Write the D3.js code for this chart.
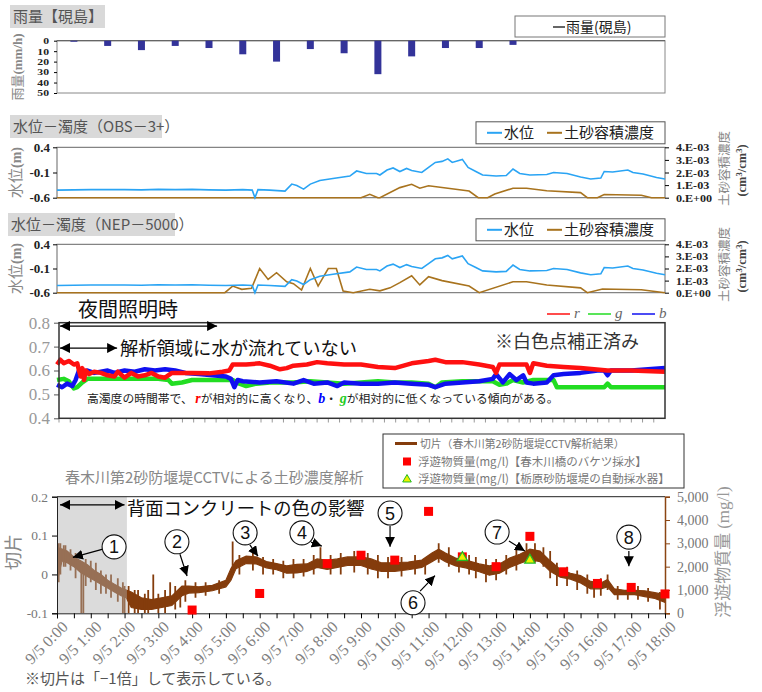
<!DOCTYPE html>
<html><head><meta charset="utf-8">
<script src="https://cdn.jsdelivr.net/npm/d3@7"></script>
<style>
body{margin:0;background:#fff}
</style></head><body>
<svg id="c" width="762" height="692" font-family='"Noto Sans CJK JP", sans-serif'></svg>
<script>
// ---------------- DATA ----------------
const hourTicks = d3.range(0, 19);
const rainHours = [0.5,1.5,2.5,3.5,4.5,5.5,6.5,7.5,8.5,9.5,10.5,11.5,12.5,13.5];
const rainValues = [1,5,9,5,7,13,20,8,12,32,15,7,7,4];
const rainTicks = [0,10,20,30,40,50];

const waterLevel = [[0,-0.45],[0.5,-0.445],[1,-0.44],[1.5,-0.44],[2,-0.44],[2.5,-0.445],[3,-0.435],[3.5,-0.44],[4,-0.435],[4.5,-0.445],[5,-0.45],[5.5,-0.44],[5.78,-0.45],[5.86,-0.6],[5.95,-0.44],[6.3,-0.45],[6.75,-0.47],[6.95,-0.33],[7.1,-0.36],[7.3,-0.43],[7.5,-0.33],[7.78,-0.26],[8.17,-0.22],[8.67,-0.17],[8.87,-0.07],[9.16,-0.12],[9.46,-0.12],[9.56,-0.15],[9.77,-0.05],[9.95,-0.01],[10.15,-0.08],[10.35,-0.02],[10.5,-0.06],[10.8,-0.1],[11.0,0.0],[11.2,0.1],[11.4,0.12],[11.57,0.17],[11.7,0.1],[12.0,0.16],[12.17,0.0],[12.4,-0.08],[12.6,-0.15],[13.0,-0.17],[13.3,-0.16],[13.5,-0.03],[13.7,-0.12],[14.0,-0.15],[14.5,-0.14],[14.7,-0.1],[15.1,-0.12],[15.5,-0.19],[15.8,-0.23],[16.1,-0.21],[16.2,-0.08],[16.45,-0.09],[16.9,-0.05],[17.05,-0.1],[17.35,-0.13],[17.75,-0.2],[18,-0.23]];
const volTicksLeft = [0.4,-0.1,-0.6];
const concTicks = [0,0.001,0.002,0.003,0.004];
const concLabels = ["0.E+00","1.E-03","2.E-03","3.E-03","4.E-03"];

const obsConc = [[0,0],[9.0,0],[9.26,0.00027],[9.5,0],[9.56,0],[10.15,0.0008],[10.5,0.00106],[10.74,0.00075],[11.0,0.00095],[12.2,0.00053],[12.47,0],[12.75,0],[12.96,0.0003],[13.5,0.00075],[13.9,0.00075],[14.5,0.00055],[15.5,0.0004],[15.7,0],[16.0,0],[16.2,0.00025],[17.3,0.0002],[17.6,0],[18,0]];
const nepConc = [[0,0],[4.97,0],[5.2,0.00055],[5.47,0.00028],[5.76,0.00036],[6.0,0.002],[6.25,0.0011],[6.5,0.00165],[6.8,0.0009],[7.0,0.00075],[7.24,0.00022],[7.5,0.002],[7.73,0.00055],[8.03,0.002],[8.27,0.002],[8.47,0.00014],[8.77,0],[9.26,0.00028],[9.56,0.00015],[9.86,0.0004],[10.15,0.00083],[10.5,0.0014],[10.74,0.00064],[11.0,0.00132],[11.4,0.001],[12.2,0.00055],[12.5,0],[13.5,0.0009],[13.9,0.0009],[14.5,0.00064],[15.5,0.0004],[15.7,0],[16.15,0.0003],[17.3,0.00025],[18,0]];

const rgbTicks = [0.4,0.5,0.6,0.7,0.8];
const rSeries = [[0,0.625],[0.1,0.645],[0.2,0.63],[0.35,0.64],[0.5,0.625],[0.6,0.63],[0.65,0.6],[0.7,0.575],[0.75,0.61],[0.8,0.56],[0.85,0.6],[0.95,0.585],[1.1,0.595],[1.3,0.59],[1.5,0.58],[1.7,0.575],[1.8,0.595],[2.0,0.57],[2.2,0.59],[2.4,0.575],[2.6,0.58],[2.8,0.59],[3.0,0.575],[3.2,0.57],[3.4,0.59],[3.6,0.59],[4.0,0.59],[4.5,0.588],[4.9,0.595],[5.1,0.6],[5.2,0.625],[5.6,0.625],[6.0,0.63],[6.3,0.62],[6.6,0.605],[6.8,0.61],[7.0,0.62],[7.4,0.625],[7.7,0.635],[8.0,0.63],[8.5,0.625],[9.0,0.625],[9.5,0.615],[10.0,0.61],[10.5,0.63],[11.0,0.64],[11.2,0.645],[11.5,0.635],[12.0,0.635],[12.5,0.625],[12.9,0.615],[13.0,0.59],[13.1,0.625],[13.9,0.625],[14.0,0.59],[14.1,0.63],[14.5,0.62],[15.0,0.615],[15.5,0.61],[16.3,0.6],[17.0,0.6],[18,0.595]];
const gSeries = [[0,0.56],[0.2,0.565],[0.35,0.555],[0.5,0.525],[0.6,0.53],[0.75,0.55],[0.9,0.565],[1.5,0.565],[2.0,0.565],[2.5,0.565],[3.0,0.565],[3.3,0.56],[3.4,0.545],[3.7,0.55],[4.0,0.56],[5.0,0.56],[5.2,0.56],[5.4,0.545],[5.6,0.535],[5.9,0.545],[6.3,0.55],[7.0,0.55],[7.5,0.555],[8.0,0.55],[8.5,0.545],[9.0,0.55],[9.5,0.555],[10.0,0.55],[10.5,0.55],[11.0,0.545],[11.2,0.53],[11.4,0.55],[12.0,0.555],[12.5,0.555],[12.9,0.555],[13.1,0.54],[13.3,0.545],[13.5,0.56],[13.8,0.55],[14.1,0.56],[14.5,0.56],[14.7,0.56],[14.8,0.53],[15.5,0.53],[16.2,0.53],[16.3,0.545],[16.4,0.53],[17,0.53],[18,0.53]];
const bSeries = [[0,0.54],[0.15,0.53],[0.3,0.545],[0.45,0.535],[0.55,0.56],[0.65,0.6],[0.75,0.59],[0.9,0.6],[1.1,0.59],[1.3,0.595],[1.5,0.6],[1.7,0.59],[2.0,0.6],[2.3,0.595],[2.6,0.605],[2.9,0.6],[3.2,0.605],[3.5,0.6],[3.8,0.59],[4.2,0.585],[4.6,0.58],[5.0,0.575],[5.15,0.565],[5.25,0.53],[5.35,0.56],[5.5,0.555],[6.0,0.55],[6.5,0.555],[7.0,0.545],[7.3,0.56],[7.6,0.545],[8.0,0.55],[8.3,0.535],[8.5,0.55],[9.0,0.545],[9.5,0.545],[10.0,0.55],[10.5,0.545],[11.0,0.54],[11.2,0.53],[11.5,0.545],[12.0,0.55],[12.5,0.555],[12.9,0.565],[13.0,0.585],[13.2,0.55],[13.4,0.585],[13.6,0.56],[13.8,0.58],[13.9,0.55],[14.1,0.545],[14.5,0.55],[14.7,0.58],[15.0,0.585],[15.5,0.59],[16.0,0.6],[16.2,0.6],[16.3,0.58],[16.4,0.6],[17.0,0.6],[17.5,0.605],[18,0.61]];

// 切片 band: [hour, low, high]
const kirihenBand = [[0,-0.02,0.07],[0.15,0.035,0.065],[0.3,0.03,0.06],[0.5,0.02,0.045],[0.7,0.005,0.035],[0.9,-0.005,0.025],[1.1,-0.015,0.01],[1.3,-0.025,0.0],[1.5,-0.035,-0.015],[1.7,-0.045,-0.025],[1.9,-0.055,-0.035],[2.05,-0.06,-0.04],[2.2,-0.085,-0.045],[2.5,-0.09,-0.06],[2.8,-0.09,-0.065],[3.1,-0.085,-0.06],[3.4,-0.08,-0.055],[3.7,-0.055,-0.03],[3.9,-0.048,-0.03],[4.2,-0.047,-0.032],[4.6,-0.042,-0.028],[5.0,-0.032,-0.015],[5.15,-0.015,0.015],[5.3,0.015,0.035],[5.6,0.028,0.047],[5.9,0.027,0.045],[6.2,0.017,0.033],[6.5,0.012,0.028],[6.8,0.003,0.022],[7.1,0.004,0.026],[7.4,0.008,0.027],[7.7,0.018,0.04],[8.0,0.013,0.036],[8.3,0.018,0.04],[8.6,0.023,0.045],[9.0,0.023,0.045],[9.3,0.014,0.04],[9.6,0.008,0.03],[10.0,0.008,0.03],[10.4,0.012,0.032],[10.8,0.018,0.037],[11.1,0.033,0.055],[11.3,0.043,0.065],[11.5,0.033,0.055],[11.8,0.022,0.042],[12.1,0.017,0.037],[12.5,0.007,0.027],[12.8,-0.002,0.022],[13.1,0.003,0.027],[13.4,0.018,0.042],[13.7,0.028,0.052],[14.0,0.038,0.065],[14.3,0.033,0.06],[14.6,0.008,0.035],[14.9,-0.007,0.013],[15.2,-0.012,0.003],[15.5,-0.022,-0.003],[15.8,-0.037,-0.018],[16.1,-0.037,-0.022],[16.3,-0.032,-0.013],[16.5,-0.052,-0.037],[16.8,-0.052,-0.041],[17.1,-0.052,-0.041],[17.4,-0.057,-0.042],[17.7,-0.062,-0.047],[18.0,-0.072,-0.052]];
// spikes: [hour, from, to]
const kirihenSpikes = [[0.05,-0.02,0.08],[0.1,0.0,0.08],[0.2,0.02,0.075],[0.25,0.02,0.075],[0.4,0.01,0.065],[0.55,-0.01,0.055],[0.72,-0.1,0.03],[0.78,-0.1,0.02],[0.85,-0.03,0.04],[1.0,-0.02,0.035],[1.15,-0.04,0.03],[1.3,-0.05,0.01],[1.45,-0.05,0.0],[1.6,-0.06,0.0],[1.8,-0.07,-0.01],[1.95,-0.1,-0.02],[2.0,-0.1,-0.03],[2.12,-0.1,-0.03],[2.3,-0.1,-0.04],[2.4,-0.1,-0.04],[2.6,-0.1,-0.05],[2.7,-0.1,-0.04],[2.85,-0.08,0.0],[3.0,-0.1,-0.05],[3.2,-0.1,-0.04],[3.35,-0.08,-0.02],[3.5,-0.09,-0.03],[3.65,-0.085,-0.04],[3.8,-0.07,-0.015],[4.1,-0.06,-0.02],[4.4,-0.055,-0.02],[4.8,-0.05,-0.015],[5.2,0.0,0.085],[5.4,0.0,0.05],[5.8,0.01,0.06],[6.1,0.0,0.045],[6.4,0.0,0.04],[6.7,-0.01,0.035],[7.0,-0.01,0.04],[7.3,-0.005,0.04],[7.6,0.0,0.05],[7.8,0.02,0.07],[8.1,0.0,0.05],[8.4,0.0,0.055],[8.8,0.005,0.06],[9.2,0.0,0.055],[9.5,-0.01,0.05],[9.8,-0.01,0.045],[10.2,-0.005,0.045],[10.6,0.0,0.05],[10.9,0.0,0.04],[11.3,0.03,0.08],[11.6,0.02,0.07],[11.9,0.005,0.055],[12.2,0.0,0.05],[12.4,-0.01,0.045],[12.7,-0.02,0.04],[13.0,-0.015,0.04],[13.3,0.0,0.05],[13.6,0.01,0.07],[13.9,0.03,0.08],[14.15,0.03,0.08],[14.4,0.02,0.07],[14.6,-0.01,0.06],[14.8,-0.03,0.03],[15.1,-0.03,0.02],[15.4,-0.04,0.01],[15.7,-0.05,0.0],[15.9,-0.06,-0.02],[16.1,-0.055,-0.01],[16.3,-0.04,0.0],[16.6,-0.065,-0.03],[16.9,-0.065,-0.03],[17.2,-0.065,-0.03],[17.5,-0.07,-0.035],[17.85,-0.09,-0.045]];
const kirihenTicks = [0.2,0.1,0,-0.1];
const ssTicks = [0,1000,2000,3000,4000,5000];
const ssBucketHours = [4,6,8,9,10,11,12,13,14,15,16,17,18];
const ssBucketValues = [140,850,2130,2490,2280,4370,2420,2000,3300,1780,1280,1110,830];
const ssAutoHours = [12,14];
const ssAutoValues = [2390,2280];
// annotations [label, circle hour, circle value, arrow start h, v, arrow tip h, v]
const callouts = [
 ["1",1.69,0.071,1.36,0.065,0.47,0.044],
 ["2",3.55,0.084,3.64,0.052,3.85,-0.004],
 ["3",5.57,0.107,5.71,0.076,5.95,0.047],
 ["4",7.25,0.107,7.52,0.083,7.84,0.073],
 ["5",9.86,0.158,9.86,0.125,9.86,0.071],
 ["6",10.54,-0.073,10.75,-0.043,11.19,-0.003],
 ["7",13.03,0.109,13.38,0.086,13.85,0.06],
 ["8",16.93,0.096,16.93,0.06,16.93,0.021]
];

// ---------------- DRAW ----------------
const svg = d3.select("#c");
const SERIF = '"Liberation Serif", serif';
const x = d3.scaleLinear().domain([0,18]).range([57,665]);

const defs = svg.append("defs");
defs.append("marker").attr("id","ah").attr("viewBox","0 0 10 10").attr("refX",10).attr("refY",5)
  .attr("markerWidth",10).attr("markerHeight",10).attr("markerUnits","userSpaceOnUse").attr("orient","auto-start-reverse")
  .append("path").attr("d","M0,0L10,5L0,10Z").attr("fill","#000");

function titleBox(x0,y0,w,h,txt){
  svg.append("rect").attr("x",x0).attr("y",y0).attr("width",w).attr("height",h).attr("fill","#d9d9d9");
  svg.append("text").attr("x",x0+3).attr("y",y0+h-6).attr("font-size",15).attr("fill","#555").text(txt);
}
function styleAxis(g, size, color, family, weight){
  g.attr("font-family",null).attr("font-size",null);
  g.selectAll("text").attr("font-family",family).attr("font-size",size).attr("fill",color).attr("font-weight",weight||"normal");
  g.select(".domain").remove();
}

// ===== Panel 1: rain =====
titleBox(10,5,95,23,"雨量【硯島】");
const y1 = d3.scaleLinear().domain([0,50]).range([40.7,93]);
svg.append("rect").attr("x",57).attr("y",y1(0)).attr("width",608).attr("height",y1(50)-y1(0)).attr("fill","none").attr("stroke","#888");
svg.append("line").attr("x1",57).attr("x2",665).attr("y1",y1(0)).attr("y2",y1(0)).attr("stroke","#666").attr("stroke-width",1.2);
svg.selectAll(".rain").data(rainValues).join("rect")
  .attr("x",(d,i)=>x(rainHours[i])-3.5).attr("width",7)
  .attr("y",y1(0)).attr("height",d=>y1(d)-y1(0)).attr("fill","#333399");
const ax1 = svg.append("g").attr("transform","translate(57,0)").call(d3.axisLeft(y1).tickValues(rainTicks).tickSize(3).tickPadding(4));
styleAxis(ax1,9,"#222",SERIF,"bold");
ax1.selectAll("text").attr("transform","scale(1.3,1)").attr("x",-8/1.3);
svg.append("text").attr("transform","translate(22,67) rotate(-90)").attr("text-anchor","middle").attr("fill","#888").attr("font-size",13)
  .html('雨量<tspan font-family=\'"Liberation Serif",serif\' font-weight="bold">(mm/h)</tspan>');
svg.append("rect").attr("x",515).attr("y",16).attr("width",150).attr("height",21).attr("fill","#fff").attr("stroke","#777");
svg.append("line").attr("x1",553).attr("x2",565).attr("y1",27).attr("y2",27).attr("stroke","#333").attr("stroke-width",1.5);
svg.append("text").attr("x",566).attr("y",32).attr("font-size",14).attr("fill","#222").text("雨量(硯島)");

// ===== Panels 2 & 3: water level / concentration =====
function wlPanel(top,bottom,title,tx,tw,ty,conc,rfont){
  titleBox(tx,ty,tw,23,title);
  const yl = d3.scaleLinear().domain([-0.6,0.4]).range([bottom,top]);
  const yr = d3.scaleLinear().domain([0,0.004]).range([bottom,top]);
  svg.append("rect").attr("x",57).attr("y",top).attr("width",608).attr("height",bottom-top).attr("fill","none").attr("stroke","#666");
  const gl = svg.append("g").attr("transform","translate(57,0)").call(d3.axisLeft(yl).tickValues(volTicksLeft).tickSize(4).tickPadding(3).tickFormat(d=>String(d)));
  styleAxis(gl,13,"#222",SERIF,"bold");
  const gr = svg.append("g").attr("transform","translate(665,0)").call(d3.axisRight(yr).tickValues(concTicks).tickSize(4).tickPadding(7).tickFormat((d,i)=>concLabels[i]));
  styleAxis(gr,rfont,"#222",SERIF,"bold");
  gr.selectAll("text").attr("transform","scale(1.1,1)").attr("x",11/1.1);
  svg.append("path").datum(conc).attr("d",d3.line().x(d=>x(d[0])).y(d=>yr(d[1]))).attr("fill","none").attr("stroke","#A8731E").attr("stroke-width",1.6);
  svg.append("path").datum(waterLevel).attr("d",d3.line().x(d=>x(d[0])).y(d=>yl(d[1]))).attr("fill","none").attr("stroke","#2AA4F4").attr("stroke-width",1.6);
  const mid=(top+bottom)/2;
  svg.append("text").attr("transform",`translate(21,${mid}) rotate(-90)`).attr("text-anchor","middle").attr("fill","#888").attr("font-size",15)
    .html('水位<tspan font-family=\'"Liberation Serif",serif\' font-weight="bold" font-size="14">(m)</tspan>');
  svg.append("text").attr("transform",`translate(729,${mid-4}) rotate(-90)`).attr("text-anchor","middle").attr("fill","#888").attr("font-size",12.5).text("土砂容積濃度");
  svg.append("text").attr("transform",`translate(746,${mid-2}) rotate(-90)`).attr("text-anchor","middle").attr("fill","#444").attr("font-size",12.5)
    .attr("font-family",SERIF).attr("font-weight","bold").html('(cm<tspan dy="-4" font-size="8.5">3</tspan><tspan dy="4">/cm</tspan><tspan dy="-4" font-size="8.5">3</tspan><tspan dy="4">)</tspan>');
  const ly = top-14.5;
  svg.append("rect").attr("x",476).attr("y",ly-11).attr("width",189).attr("height",22).attr("fill","#fff").attr("stroke","#555");
  svg.append("line").attr("x1",487).attr("x2",502).attr("y1",ly).attr("y2",ly).attr("stroke","#2AA4F4").attr("stroke-width",2);
  svg.append("text").attr("x",504).attr("y",ly+5).attr("font-size",15).attr("fill","#222").text("水位");
  svg.append("line").attr("x1",547).attr("x2",562).attr("y1",ly).attr("y2",ly).attr("stroke","#A8731E").attr("stroke-width",2);
  svg.append("text").attr("x",564).attr("y",ly+5).attr("font-size",15).attr("fill","#222").text("土砂容積濃度");
}
wlPanel(147.3,197.7,"水位－濁度（OBS－3+）",10,152,115,obsConc,11);
wlPanel(244.3,292.7,"水位－濁度（NEP－5000）",8,167,213,nepConc,10.6);

// ===== Panel 4: RGB =====
const y4 = d3.scaleLinear().domain([0.4,0.8]).range([418.3,322.7]);
const g4 = svg.append("g").attr("transform","translate(59,0)").call(d3.axisLeft(y4).tickValues(rgbTicks).tickSize(5).tickPadding(4).tickFormat(d3.format(".1f")));
styleAxis(g4,17,"#999",SERIF);
g4.selectAll("line").attr("stroke","#555");
const minor = d3.range(0,18,1/3);
svg.selectAll(".mt").data(minor).join("line").attr("x1",d=>x(d)+2*(1-d/18)).attr("x2",d=>x(d)+2*(1-d/18))
  .attr("y1",418.3).attr("y2",422.5).attr("stroke","#999");
const rgbLine = d3.line().x(d=>x(d[0])).y(d=>y4(d[1]));
[[gSeries,"#22DD22"],[bSeries,"#1010F0"],[rSeries,"#FF1010"]].forEach(([s,c])=>{
  svg.append("path").datum(s).attr("d",rgbLine).attr("fill","none").attr("stroke",c).attr("stroke-width",4.5).attr("stroke-linejoin","round");
});
svg.append("rect").attr("x",59).attr("y",322.7).attr("width",606).attr("height",95.6).attr("fill","none").attr("stroke","#333").attr("stroke-width",1.5);
[["r","#FF1010",547],["g","#22DD22",588],["b","#1010F0",632]].forEach(([t,c,lx])=>{
  svg.append("line").attr("x1",lx).attr("x2",lx+23).attr("y1",314).attr("y2",314).attr("stroke",c).attr("stroke-width",1.5);
  svg.append("text").attr("x",lx+27).attr("y",318).attr("font-size",15).attr("font-style","italic").attr("fill","#666").attr("font-family",SERIF).text(t);
});
svg.append("text").attr("x",78).attr("y",317).attr("font-size",20).attr("fill","#111").text("夜間照明時");
svg.append("line").attr("x1",x(0)+3).attr("x2",x(4.74)).attr("y1",y4(0.786)).attr("y2",y4(0.786)).attr("stroke","#000").attr("stroke-width",1.3)
  .attr("marker-start","url(#ah)").attr("marker-end","url(#ah)");
svg.append("line").attr("x1",x(0)+3).attr("x2",x(1.78)).attr("y1",y4(0.694)).attr("y2",y4(0.694)).attr("stroke","#000").attr("stroke-width",1.3)
  .attr("marker-start","url(#ah)").attr("marker-end","url(#ah)");
svg.append("text").attr("x",120).attr("y",355).attr("font-size",18.3).attr("fill","#111").text("解析領域に水が流れていない");
svg.append("text").attr("x",495).attr("y",348).attr("font-size",18).attr("fill","#333").text("※白色点補正済み");
svg.append("text").attr("x",87).attr("y",403).attr("font-size",11.8).attr("fill","#222")
  .html('高濁度の時間帯で、 <tspan fill="#FF0000" font-weight="bold" font-style="italic" font-family=\'"Liberation Serif",serif\' font-size="14">r</tspan>が相対的に高くなり、<tspan fill="#0000FF" font-weight="bold" font-style="italic" font-family=\'"Liberation Serif",serif\' font-size="14">b</tspan>・ <tspan fill="#22CC22" font-weight="bold" font-style="italic" font-family=\'"Liberation Serif",serif\' font-size="14">g</tspan>が相対的に低くなっている傾向がある。');

// ===== Panel 5: 切片 / SS =====
const y5 = d3.scaleLinear().domain([-0.1,0.2]).range([613.3,496.7]);
const y5r = d3.scaleLinear().domain([0,5000]).range([613.3,496.7]);
defs.append("clipPath").attr("id","cp5").append("rect").attr("x",57).attr("y",496.7).attr("width",608).attr("height",116.6);
const pg = svg.append("g").attr("clip-path","url(#cp5)");
pg.append("path").datum(kirihenBand)
  .attr("d",d3.area().x(d=>x(d[0])).y0(d=>y5(d[1])).y1(d=>y5(d[2])))
  .attr("fill","#843C0C").attr("stroke","#843C0C").attr("stroke-width",1.2);
pg.selectAll(".sp").data(kirihenSpikes).join("line")
  .attr("x1",d=>x(d[0])).attr("x2",d=>x(d[0])).attr("y1",d=>y5(d[1])).attr("y2",d=>y5(d[2]))
  .attr("stroke","#843C0C").attr("stroke-width",1.8);
svg.append("rect").attr("x",x(0)).attr("y",y5(0.2)).attr("width",x(2.07)-x(0)).attr("height",y5(-0.1)-y5(0.2))
  .attr("fill","#b0b0b0").attr("opacity",0.45);
svg.append("line").attr("x1",57).attr("x2",665).attr("y1",y5(0.2)).attr("y2",y5(0.2)).attr("stroke","#222");
const g5l = svg.append("g").attr("transform","translate(57,0)").call(d3.axisLeft(y5).tickValues(kirihenTicks).tickSize(5).tickPadding(4).tickFormat(d=>String(d)));
g5l.attr("font-family",null).attr("font-size",null);
g5l.select(".domain").attr("stroke","#222");
g5l.selectAll("text").attr("font-family",SERIF).attr("font-size",13.5).attr("fill","#777");
const g5r = svg.append("g").attr("transform","translate(665,0)").call(d3.axisRight(y5r).tickValues(ssTicks).tickSize(5).tickPadding(7).tickFormat(d3.format(",")));
g5r.attr("font-family",null).attr("font-size",null);
g5r.select(".domain").attr("stroke","#8B4513").attr("stroke-width",1.5);
g5r.selectAll("line").attr("stroke","#8B4513");
g5r.selectAll("text").attr("font-family",SERIF).attr("font-size",14).attr("fill","#777");
const g5b = svg.append("g").attr("transform","translate(0,613.3)").call(d3.axisBottom(x).tickValues(d3.range(0,18.01,0.5)).tickSize(5).tickFormat(""));
g5b.select(".domain").attr("stroke","#222");
svg.selectAll(".xl").data(hourTicks).join("text")
  .attr("transform",d=>`translate(${x(d)+5},${621}) rotate(-45)`).attr("text-anchor","end").attr("dy","0.6em")
  .attr("font-family",SERIF).attr("font-size",16).attr("fill","#808080").text(d=>`9/5 ${d}:00`);
svg.selectAll(".sq").data(ssBucketValues).join("rect")
  .attr("x",(d,i)=>x(ssBucketHours[i])-4.5).attr("y",d=>y5r(d)-4.5).attr("width",9).attr("height",9).attr("fill","#FF0000");
svg.selectAll(".tri").data(ssAutoValues).join("path")
  .attr("transform",(d,i)=>`translate(${x(ssAutoHours[i])},${y5r(d)})`)
  .attr("d",d3.symbol(d3.symbolTriangle,45)).attr("fill","#EEF000").attr("stroke","#22BB22").attr("stroke-width",1.3);
svg.append("text").attr("x",65).attr("y",483).attr("font-size",15).attr("fill","#888").text("春木川第2砂防堰堤CCTVによる土砂濃度解析");
svg.append("text").attr("transform","translate(20,552) rotate(-90)").attr("text-anchor","middle").attr("font-size",18).attr("fill","#888").text("切片");
svg.append("text").attr("transform","translate(729,552) rotate(-90)").attr("text-anchor","middle").attr("font-size",17).attr("fill","#999")
  .html('浮遊物質量 <tspan font-family=\'"Liberation Serif",serif\'>(mg/l)</tspan>');
svg.append("rect").attr("x",383).attr("y",434).attr("width",301).attr("height",54).attr("fill","#fff").attr("stroke","#333");
svg.append("line").attr("x1",395).attr("x2",417).attr("y1",443.5).attr("y2",443.5).attr("stroke","#843C0C").attr("stroke-width",3);
svg.append("text").attr("x",420).attr("y",447.5).attr("font-size",10.8).attr("fill","#777").text("切片（春木川第2砂防堰堤CCTV解析結果）");
svg.append("rect").attr("x",403).attr("y",457.5).attr("width",8).attr("height",8).attr("fill","#FF0000");
svg.append("text").attr("x",418).attr("y",465.5).attr("font-size",11.5).attr("fill","#777").text("浮遊物質量(mg/l)【春木川橋のバケツ採水】");
svg.append("path").attr("transform","translate(407,479.5)").attr("d",d3.symbol(d3.symbolTriangle,32)).attr("fill","#EEF000").attr("stroke","#22BB22");
svg.append("text").attr("x",418).attr("y",483).attr("font-size",11.5).attr("fill","#777").text("浮遊物質量(mg/l)【栃原砂防堰堤の自動採水器】");
svg.append("line").attr("x1",x(0)+3).attr("x2",x(2.0)).attr("y1",y5(0.179)).attr("y2",y5(0.179)).attr("stroke","#000").attr("stroke-width",1.3)
  .attr("marker-start","url(#ah)").attr("marker-end","url(#ah)");
svg.append("text").attr("x",127).attr("y",515).attr("font-size",18.3).attr("fill","#111").text("背面コンクリートの色の影響");
callouts.forEach(c=>{
  svg.append("line").attr("x1",x(c[3])).attr("y1",y5(c[4])).attr("x2",x(c[5])).attr("y2",y5(c[6]))
    .attr("stroke","#000").attr("stroke-width",1.2).attr("marker-end","url(#ah)");
  svg.append("circle").attr("cx",x(c[1])).attr("cy",y5(c[2])).attr("r",12).attr("fill","#fff").attr("stroke","#111").attr("stroke-width",1.1);
  svg.append("text").attr("x",x(c[1])).attr("y",y5(c[2])+6.5).attr("text-anchor","middle").attr("font-size",18)
    .attr("font-family",'"Liberation Sans", sans-serif').attr("fill","#111").text(c[0]);
});
svg.append("text").attr("x",25).attr("y",684).attr("font-size",15).attr("fill","#555").text("※切片は「−1倍」して表示している。");
</script></body></html>
